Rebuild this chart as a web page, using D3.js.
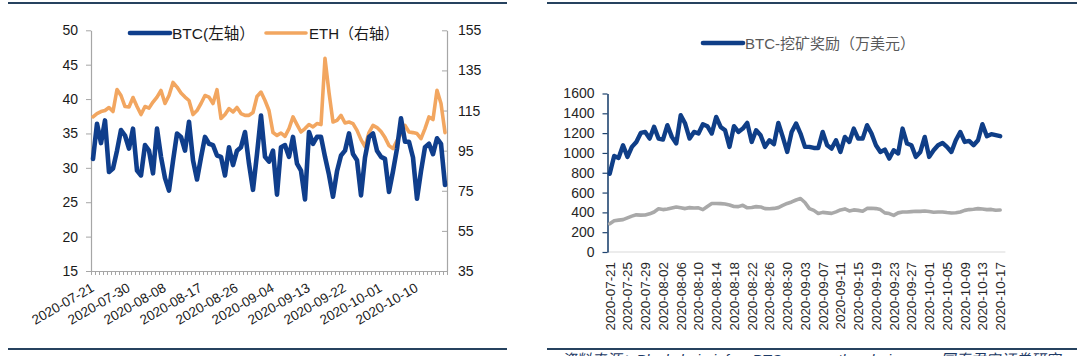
<!DOCTYPE html>
<html>
<head>
<meta charset="utf-8">
<script src="https://cdn.jsdelivr.net/npm/d3@7"></script>
<style>
  html, body { margin: 0; padding: 0; background: #ffffff; }
  svg { display: block; }
  text { font-family: "Liberation Sans", Arial, "Noto Sans CJK SC", sans-serif; }
</style>
</head>
<body>
<svg id="chart" width="1080" height="356"></svg>
<script>
// ---------------- DATA ----------------
const startDate = "2020-07-21";
const nDays = 89;

const btcHash = [31.3,36.4,33.6,36.9,29.4,29.9,32.5,35.5,34.7,32.8,
 35.7,29.6,28.9,33.3,32.5,29.2,35.7,31.6,28.5,26.7,
 31,35,34.5,32.5,36.7,31.1,28.3,31.5,34.5,33.5,
 33.3,31.8,31.6,28.9,33,30.4,32.5,33,35.2,30.6,
 26.8,32,37.6,31.6,30.9,32.5,26.1,33,33.3,31.6,
 34.5,30.6,29.6,25.4,35.2,33.5,34.5,34.5,31.6,29,
 25.8,29.5,31.8,32.5,35,32,31.1,26,31.5,34.5,
 35,32.5,31.6,31.3,26.5,29.5,32.8,37.2,33.8,33.8,
 31.5,25.5,29.5,33,33.5,32,34.3,33.5,27.5];

const ethHash = [111.8,113.5,114.5,115,116.5,114.5,125.5,122.5,117,116.8,
 121.5,117,113,117,116.2,119.2,121.7,125,118.5,122.5,
 129,126.7,123.7,121.7,120,113,115,118.5,122.5,121.7,
 118.5,125.4,111,113,116,114.3,116.5,113.5,112.6,112.6,
 114,122,124.2,120,115,104,102.6,103.8,102.1,106,
 111.8,108,104.3,106,108,106.8,108.5,108,141,124,
 109.3,110.1,112.6,108.8,109.3,108.5,105.1,100.5,97,104,
 107.6,106.5,104.5,101.5,97.5,96,100,103.5,107.6,104.3,
 104,103.5,101,106,111.8,110.5,125.1,118.5,104];

const btcReward = [790,970,950,1078,960,1061,1111,1202,1212,1145,
 1263,1145,1135,1280,1162,1095,1381,1297,1145,1212,
 1196,1290,1270,1196,1364,1263,1229,1061,1270,1212,
 1246,1303,1111,1229,1179,1061,1128,1088,1303,1162,
 1010,1212,1297,1196,1061,1061,1050,1050,1212,1078,
 1044,1128,1010,1162,1111,1246,1145,1145,1280,1196,
 1078,1010,1034,943,1027,994,1246,1095,1078,960,
 1010,1162,960,1027,1078,1101,1061,1010,1128,1212,
 1111,1121,1078,1128,1290,1169,1189,1179,1169];

const greyReward = [285,315,322,327,345,362,375,372,373,385,
 404,436,428,435,445,455,447,438,448,444,
 446,428,460,489,490,488,484,475,460,458,
 471,446,450,458,455,438,437,440,448,470,
 490,505,525,540,500,438,420,388,400,395,
 390,405,425,435,414,425,420,412,440,442,
 438,428,395,388,370,395,404,404,408,412,
 410,414,408,402,404,404,398,394,396,404,
 420,428,432,438,434,428,430,421,424];

const leftTickLabels = ["2020-07-21","2020-07-30","2020-08-08","2020-08-17","2020-08-26",
  "2020-09-04","2020-09-13","2020-09-22","2020-10-01","2020-10-10"];
const rightTickLabels = ["2020-07-21","2020-07-25","2020-07-29","2020-08-02","2020-08-06",
  "2020-08-10","2020-08-14","2020-08-18","2020-08-22","2020-08-26","2020-08-30",
  "2020-09-03","2020-09-07","2020-09-11","2020-09-15","2020-09-19","2020-09-23",
  "2020-09-27","2020-10-01","2020-10-05","2020-10-09","2020-10-13","2020-10-17"];
const leftYTicks = [15,20,25,30,35,40,45,50];
const rightYTicks = [35,55,75,95,115,135,155];
const rewardYTicks = [0,200,400,600,800,1000,1200,1400,1600];

const legendLeft = ["BTC(左轴）", "ETH（右轴）"];
const legendRight = "BTC-挖矿奖励（万美元）";
const sourceText = "资料来源：Blockchain.info，BTC.com，etherchain.org，国泰君安证券研究";

// ---------------- SETUP ----------------
const fmt = d3.timeFormat("%Y-%m-%d");
const parse = d3.timeParse("%Y-%m-%d");
const d0 = parse(startDate);
const categories = d3.timeDay.range(d0, d3.timeDay.offset(d0, nDays)).map(fmt);

const svg = d3.select("#chart");
svg.append("rect").attr("width",1080).attr("height",356).attr("fill","#fff");

const frameColor = "#26425f";
[[8,507],[547,1077]].forEach(([a,b]) => {
  svg.append("line").attr("x1",a).attr("x2",b).attr("y1",3).attr("y2",3)
    .attr("stroke",frameColor).attr("stroke-width",2.2);
  svg.append("line").attr("x1",a).attr("x2",b).attr("y1",349).attr("y2",349)
    .attr("stroke",frameColor).attr("stroke-width",2.2);
});

// ---------------- LEFT CHART ----------------
const L = {left: 91, right: 447, top: 30.3, bottom: 271};
const xL = d3.scaleBand().domain(categories).range([L.left, L.right]);
const xLb = d3.scaleLinear().domain([0, nDays]).range([L.left, L.right]);
const yL = d3.scaleLinear().domain([15, 50]).range([L.bottom, L.top]);
const yE = d3.scaleLinear().domain([35, 155]).range([L.bottom, L.top]);
const cx = d => xL(d) + xL.bandwidth() / 2;

const gl = svg.append("g");
const axisGrey = "#a6a6a6";

const axL = gl.append("g").attr("transform", `translate(${L.left},0)`)
  .call(d3.axisLeft(yL).tickValues(leftYTicks).tickSize(5).tickSizeOuter(0).tickPadding(8));
const axR = gl.append("g").attr("transform", `translate(${L.right},0)`)
  .call(d3.axisRight(yE).tickValues(rightYTicks).tickSize(-5).tickSizeOuter(0).tickPadding(11));
const axB = gl.append("g").attr("transform", `translate(0,${L.bottom})`)
  .call(d3.axisBottom(xLb).tickValues(d3.range(0, nDays + 1)).tickSize(4).tickSizeOuter(0).tickFormat(""));
[axL, axR, axB].forEach(a => {
  a.select(".domain").attr("stroke", axisGrey).attr("stroke-width", 1.2);
  a.selectAll(".tick line").attr("stroke", axisGrey).attr("stroke-width", 1);
  a.selectAll("text").attr("font-size", 14).attr("fill", "#1a1a1a")
    .attr("font-family", '"Liberation Sans", Arial, sans-serif');
});

gl.append("g").selectAll("text").data(leftTickLabels).join("text")
  .attr("transform", d => `translate(${cx(d) + 2},${L.bottom + 19.5}) rotate(-30)`)
  .attr("text-anchor", "end")
  .attr("font-size", 13.5).attr("fill", "#1a1a1a")
  .text(d => d);

const btcColor = "#0f3e8c";
const ethColor = "#f2a660";

const lineBtc = d3.line().x((v,i) => cx(categories[i])).y(v => yL(v));
const lineEth = d3.line().x((v,i) => cx(categories[i])).y(v => yE(v));

gl.append("path").datum(ethHash).attr("d", lineEth)
  .attr("fill","none").attr("stroke",ethColor).attr("stroke-width",3.6)
  .attr("stroke-linejoin","round").attr("stroke-linecap","round");
gl.append("path").datum(btcHash).attr("d", lineBtc)
  .attr("fill","none").attr("stroke",btcColor).attr("stroke-width",4.6)
  .attr("stroke-linejoin","round").attr("stroke-linecap","round");

// legend left
const lgY = 33;
gl.append("line").attr("x1",130).attr("x2",170).attr("y1",lgY).attr("y2",lgY)
  .attr("stroke",btcColor).attr("stroke-width",4.6).attr("stroke-linecap","round");
gl.append("text").attr("x",172).attr("y",lgY+5.5).attr("font-size",15.5).attr("fill","#1a1a1a")
  .text(legendLeft[0]);
gl.append("line").attr("x1",266).attr("x2",306).attr("y1",lgY).attr("y2",lgY)
  .attr("stroke",ethColor).attr("stroke-width",3.6).attr("stroke-linecap","round");
gl.append("text").attr("x",309).attr("y",lgY+5.5).attr("font-size",15).attr("fill","#1a1a1a")
  .text(legendLeft[1]);

// ---------------- RIGHT CHART ----------------
const R = {left: 607.5, right: 1002.4, top: 93.5, bottom: 252};
const xR = d3.scaleBand().domain(categories).range([R.left, R.right]);
const yR = d3.scaleLinear().domain([0, 1600]).range([R.bottom, R.top]);
const cxR = d => xR(d) + xR.bandwidth() / 2;

const gr = svg.append("g");
gr.append("line").attr("x1", R.left).attr("x2", R.right + 3)
  .attr("y1", yR(0)).attr("y2", yR(0)).attr("stroke", "#d9d9d9").attr("stroke-width", 1.2);

const axRL = gr.append("g").attr("transform", `translate(${R.left},0)`)
  .call(d3.axisLeft(yR).tickValues(rewardYTicks).tickFormat(d3.format("d"))
    .tickSize(5).tickSizeOuter(0).tickPadding(8));
axRL.select(".domain").attr("stroke", "#1f4470").attr("stroke-width", 1.6);
axRL.selectAll(".tick line").attr("stroke", "#1f4470").attr("stroke-width", 1.2);
axRL.selectAll("text").attr("font-size", 14).attr("fill", "#262626")
  .attr("font-family", '"Liberation Sans", Arial, sans-serif');

gr.append("g").selectAll("text").data(rightTickLabels).join("text")
  .attr("transform", d => `translate(${cxR(d)},${R.bottom + 10}) rotate(-90)`)
  .attr("text-anchor", "end").attr("dy", "0.36em")
  .attr("font-size", 13.4).attr("fill", "#262626")
  .text(d => d);

const rewardBlue = "#0f3e87";
const rewardGrey = "#a9a9a9";
const lineRB = d3.line().x((v,i) => cxR(categories[i])).y(v => yR(v));
gr.append("path").datum(greyReward).attr("d", lineRB)
  .attr("fill","none").attr("stroke",rewardGrey).attr("stroke-width",3.6)
  .attr("stroke-linejoin","round").attr("stroke-linecap","round");
gr.append("path").datum(btcReward).attr("d", lineRB)
  .attr("fill","none").attr("stroke",rewardBlue).attr("stroke-width",4.4)
  .attr("stroke-linejoin","round").attr("stroke-linecap","round");

// legend right
const lgY2 = 43;
gr.append("line").attr("x1",703).attr("x2",743).attr("y1",lgY2).attr("y2",lgY2)
  .attr("stroke",rewardBlue).attr("stroke-width",4.6).attr("stroke-linecap","round");
gr.append("text").attr("x",745).attr("y",lgY2+5.5).attr("font-size",15).attr("fill","#595959")
  .text(legendRight);

// source line (cut by the bottom edge, as in the original)
svg.append("text").attr("x",561).attr("y",364.5).attr("font-size",15).attr("font-style","italic")
  .attr("fill","#1f3b66").text(sourceText);
</script>
</body>
</html>
